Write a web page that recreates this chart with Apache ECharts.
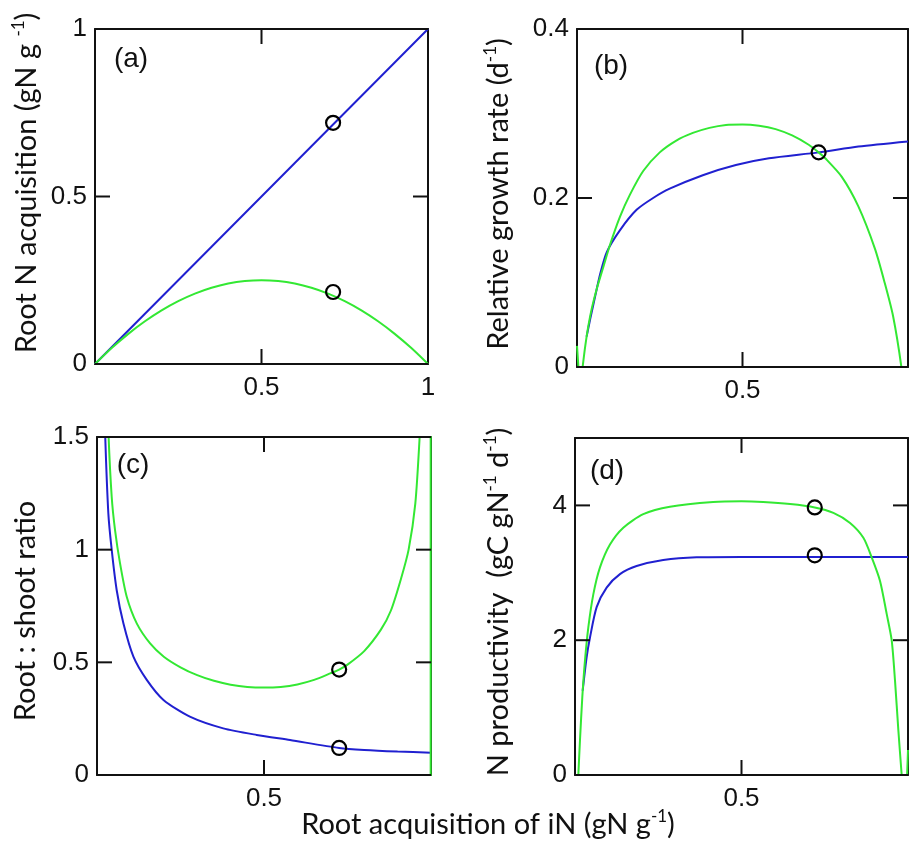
<!DOCTYPE html>
<html><head><meta charset="utf-8">
<script src="https://cdn.jsdelivr.net/npm/echarts@6/dist/echarts.min.js"></script>
<style>html,body{margin:0;padding:0;background:#fff}#c{width:910px;height:844px}</style>
</head><body><div id="c"></div>
<script>
// ---------- data ----------
// Panel (a)
const aX      = [0,0.05,0.1,0.15,0.2,0.25,0.3,0.35,0.4,0.45,0.5,0.55,0.6,0.65,0.7,0.75,0.8,0.85,0.9,0.95,1];
const aBlue   = [0,0.05,0.1,0.15,0.2,0.25,0.3,0.35,0.4,0.45,0.5,0.55,0.6,0.65,0.7,0.75,0.8,0.85,0.9,0.95,1];
const aGreen  = [0,0.0475,0.09,0.1275,0.16,0.1875,0.21,0.2275,0.24,0.2475,0.25,0.2475,0.24,0.2275,0.21,0.1875,0.16,0.1275,0.09,0.0475,0];
const aCircles = [[0.715,0.72],[0.715,0.215]];
// Panel (b)
const bGreenTail = [[0,0.025],[0.006,-0.01],[0.017,0]];
const bGreen = [[0.017,0],[0.025,0.025],[0.034,0.048],[0.045,0.07],[0.06,0.093],[0.08,0.119],[0.1,0.145],[0.13,0.178],[0.16,0.204],[0.2,0.232],[0.25,0.254],[0.3,0.268],[0.35,0.277],[0.4,0.283],[0.45,0.2865],[0.5,0.287],[0.55,0.2855],[0.6,0.2815],[0.65,0.274],[0.7,0.263],[0.73,0.254],[0.75,0.247],[0.8,0.225],[0.85,0.19],[0.9,0.14],[0.93,0.099],[0.955,0.06],[0.98,0]];
const bBlue  = [[0.029,0.036],[0.04,0.057],[0.055,0.084],[0.07,0.11],[0.09,0.136],[0.13,0.162],[0.18,0.186],[0.23,0.2],[0.28,0.211],[0.38,0.227],[0.48,0.239],[0.58,0.247],[0.73,0.254],[0.85,0.261],[1.0,0.267]];
const bCircles = [[0.73,0.254]];
// Panel (c)
const cBlue  = [[0.02,1.8],[0.024,1.53],[0.034,1.16],[0.044,1.0],[0.059,0.82],[0.079,0.673],[0.109,0.525],[0.149,0.422],[0.199,0.333],[0.278,0.259],[0.378,0.207],[0.478,0.178],[0.578,0.155],[0.725,0.12],[0.8,0.111],[0.9,0.104],[1.0,0.099]];
const cGreen = [[0.03,1.8],[0.034,1.53],[0.044,1.235],[0.054,1.087],[0.069,0.939],[0.089,0.791],[0.119,0.673],[0.159,0.584],[0.2,0.525],[0.25,0.478],[0.3,0.443],[0.35,0.418],[0.4,0.401],[0.45,0.391],[0.5,0.388],[0.55,0.391],[0.6,0.402],[0.65,0.422],[0.7,0.452],[0.725,0.468],[0.75,0.49],[0.8,0.55],[0.85,0.645],[0.88,0.73],[0.91,0.87],[0.933,1.0],[0.953,1.204],[0.966,1.5],[0.975,1.8]];
const cGreenTail = [[0.975,1.8],[0.999,1.8],[0.999,-0.2]];
const cCircles = [[0.725,0.468],[0.725,0.12]];
// Panel (d)
const dGreen = [[0.01,0],[0.015,0.52],[0.022,1.16],[0.03,1.7],[0.04,2.19],[0.055,2.68],[0.075,3.08],[0.105,3.42],[0.145,3.67],[0.205,3.87],[0.285,3.98],[0.415,4.05],[0.5,4.06],[0.565,4.05],[0.646,4.02],[0.72,3.97],[0.776,3.89],[0.826,3.74],[0.866,3.52],[0.891,3.23],[0.916,2.88],[0.936,2.39],[0.951,2.0],[0.961,1.4],[0.971,0.665],[0.981,0]];
const dGreenTail = [[0.981,0],[0.99,-1],[1.0,0.37]];
const dBlue  = [[0.023,1.25],[0.035,1.75],[0.045,2.04],[0.065,2.49],[0.095,2.78],[0.135,2.98],[0.185,3.1],[0.265,3.19],[0.365,3.23],[0.5,3.235],[1.0,3.235]];
const dCircles = [[0.72,3.97],[0.72,3.26]];
// Ticks and tick labels
const xInnerTicks = [0.5];
const aXLabels = [0.5,1], bcdXLabels = [0.5];
const aYTicks = [0,0.5,1], bYTicks = [0,0.2,0.4], cYTicks = [0,0.5,1,1.5], dYTicks = [0,2,4];

// ---------- styles ----------
const BLUE = '#2020d0', GREEN = '#33e833', AX = '#111';
const tickFont = {fontFamily:'Liberation Sans', fontSize:26, color:AX};
const titleFont = 'Lato';
const TITLE_SIZE = 29;
const TICK_LEN = 15;

const gridBoxes = [
  {left:95, top:29, width:333, height:335},
  {left:577, top:29, width:331, height:338},
  {left:97, top:437, width:334, height:338},
  {left:575, top:438, width:333, height:337}
];
const grids = gridBoxes.map(g => Object.assign({outerBoundsMode:'none', containLabel:false}, g));

const xAxis = [], yAxis = [];
function addAxes(gi, yMin, yMax, yInt, xLabs, yLabs){
  const lineStyle = {color:AX, width:2};
  const fmt = labs => v => labs.some(l => Math.abs(l - v) < 1e-9) ? String(+v.toFixed(2)) : '';
  xAxis.push({gridIndex:gi, type:'value', min:0, max:1, interval:0.5, position:'bottom',
    axisLine:{show:true, onZero:false, lineStyle}, axisTick:{show:false},
    axisLabel:Object.assign({margin:11, formatter:fmt(xLabs), showMinLabel:true, showMaxLabel:true}, tickFont),
    splitLine:{show:false}});
  xAxis.push({gridIndex:gi, type:'value', min:0, max:1, interval:0.5, position:'top',
    axisLine:{show:true, onZero:false, lineStyle}, axisTick:{show:false}, axisLabel:{show:false}, splitLine:{show:false}});
  yAxis.push({gridIndex:gi, type:'value', min:yMin, max:yMax, interval:yInt, position:'left',
    axisLine:{show:true, onZero:false, lineStyle}, axisTick:{show:false},
    axisLabel:Object.assign({margin:8, formatter:fmt(yLabs), showMinLabel:true, showMaxLabel:true}, tickFont),
    splitLine:{show:false}});
  yAxis.push({gridIndex:gi, type:'value', min:yMin, max:yMax, interval:yInt, position:'right',
    axisLine:{show:true, onZero:false, lineStyle}, axisTick:{show:false}, axisLabel:{show:false}, splitLine:{show:false}});
}
addAxes(0, 0, 1, 0.5, aXLabels, aYTicks);
addAxes(1, 0, 0.4, 0.2, bcdXLabels, bYTicks);
addAxes(2, 0, 1.5, 0.5, bcdXLabels, cYTicks);
addAxes(3, 0, 5, 2, bcdXLabels, dYTicks);
const yTickSets = [aYTicks, bYTicks, cYTicks, dYTicks];

function line(gi, data, color, smooth){
  return {type:'line', xAxisIndex:gi*2, yAxisIndex:gi*2, data, showSymbol:false, symbol:'none',
    smooth: smooth ? 0.25 : false, clip:true,
    lineStyle:{color, width:2}, itemStyle:{color}, silent:true, animation:false};
}
function circles(gi, data){
  return {type:'scatter', xAxisIndex:gi*2, yAxisIndex:gi*2, data, symbol:'circle', symbolSize:14,
    itemStyle:{color:'rgba(0,0,0,0)', borderColor:'#000', borderWidth:2.2, opacity:1}, z:5, silent:true, animation:false};
}
const zip = (xs, ys) => xs.map((x,i) => [x, ys[i]]);

const series = [
  line(0, zip(aX, aBlue), BLUE, false),
  line(0, zip(aX, aGreen), GREEN, true),
  circles(0, aCircles),
  line(1, bBlue, BLUE, true),
  line(1, bGreen, GREEN, true),
  line(1, bGreenTail, GREEN, false),
  circles(1, bCircles),
  line(2, cBlue, BLUE, true),
  line(2, cGreen, GREEN, true),
  line(2, cGreenTail, GREEN, false),
  circles(2, cCircles),
  line(3, dBlue, BLUE, true),
  line(3, dGreen, GREEN, true),
  line(3, dGreenTail, GREEN, false),
  circles(3, dCircles)
];

const supRich = {sup:{fontFamily:titleFont, fontSize:17, fill:AX, verticalAlign:'top', lineHeight:34}};
function vtext(x, y, text){
  return {type:'text', x, y, rotation:Math.PI/2, z:10,
    style:{text, fontFamily:titleFont, fontSize:TITLE_SIZE, fill:AX, align:'center', verticalAlign:'middle', rich:supRich}};
}
const panelLabel = (x, y, t) => ({type:'text', x, y, z:10,
  style:{text:t, fontFamily:'Liberation Sans', fontSize:28, fill:AX, align:'center', verticalAlign:'middle'}});

const graphic = [
  panelLabel(131, 59, '(a)'),
  panelLabel(611, 66, '(b)'),
  panelLabel(133, 465, '(c)'),
  panelLabel(607, 471, '(d)'),
  vtext(27, 183, 'Root N acquisition (gN g {sup|-1})'),
  vtext(499, 194, 'Relative growth rate (d{sup|-1})'),
  vtext(26, 611, 'Root : shoot ratio'),
  vtext(499, 602, 'N productivity  (gC gN{sup|-1} d{sup|-1})'),
  {type:'text', x:488, y:825, z:10,
    style:{text:'Root acquisition of iN (gN g{sup|-1})', fontFamily:titleFont, fontSize:TITLE_SIZE, fill:AX,
      align:'center', verticalAlign:'middle', rich:supRich}}
];

const chart = echarts.init(document.getElementById('c'), null, {renderer:'canvas'});
chart.setOption({animation:false, backgroundColor:'#fff', grid:grids, xAxis, yAxis, series, graphic});

// Inward tick marks on all four sides, positioned through the axes' own scales
const seg = (x1,y1,x2,y2) => ({type:'line', shape:{x1,y1,x2,y2}, z:10, silent:true,
  style:{stroke:AX, lineWidth:2}});
const tickGraphics = [];
gridBoxes.forEach((g, gi) => {
  const L = g.left, T = g.top, R = g.left + g.width, B = g.top + g.height;
  xInnerTicks.forEach(v => {
    const px = chart.convertToPixel({xAxisIndex: gi*2}, v);
    tickGraphics.push(seg(px, B, px, B - TICK_LEN), seg(px, T, px, T + TICK_LEN));
  });
  yTickSets[gi].forEach(v => {
    const py = chart.convertToPixel({yAxisIndex: gi*2}, v);
    tickGraphics.push(seg(L, py, L + TICK_LEN, py), seg(R, py, R - TICK_LEN, py));
  });
});
chart.setOption({graphic: graphic.concat(tickGraphics)});
</script>
</body></html>
